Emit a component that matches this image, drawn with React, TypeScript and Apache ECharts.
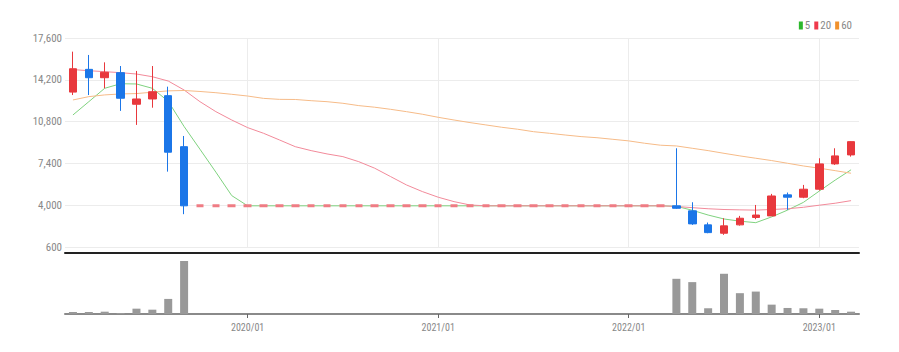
import React, { useEffect, useRef } from 'react';
import * as echarts from 'echarts';

const months = [
  '2019/02','2019/03','2019/04','2019/05','2019/06','2019/07','2019/08','2019/09','2019/10','2019/11','2019/12',
  '2020/01','2020/02','2020/03','2020/04','2020/05','2020/06','2020/07','2020/08','2020/09','2020/10','2020/11','2020/12',
  '2021/01','2021/02','2021/03','2021/04','2021/05','2021/06','2021/07','2021/08','2021/09','2021/10','2021/11','2021/12',
  '2022/01','2022/02','2022/03','2022/04','2022/05','2022/06','2022/07','2022/08','2022/09','2022/10','2022/11','2022/12',
  '2023/01','2023/02','2023/03'
];

const openPrices = [
  13200, 15050, 14370, 14780, 12210, 12640, 12910, 8760,
  3950, 3950, 3950, 3950, 3950, 3950, 3950, 3950, 3950, 3950,
  3950, 3950, 3950, 3950, 3950, 3950, 3950, 3950, 3950, 3950,
  3950, 3950, 3950, 3950, 3950, 3950, 3950, 3950, 3950, 3950,
  3950, 3540, 2400, 1720, 2400, 3000, 3130, 4840, 4650, 5300, 7360, 8090
];
const closePrices = [
  15100, 14370, 14810, 12700, 12640, 13230, 8310, 3950,
  3950, 3950, 3950, 3950, 3950, 3950, 3950, 3950, 3950, 3950,
  3950, 3950, 3950, 3950, 3950, 3950, 3950, 3950, 3950, 3950,
  3950, 3950, 3950, 3950, 3950, 3950, 3950, 3950, 3950, 3950,
  3750, 2480, 1770, 2320, 2940, 3200, 4750, 4650, 5300, 7360, 8010, 9170
];
const lowPrices = [
  12960, 12960, 13510, 11670, 10530, 11930, 6730, 3270,
  3950, 3950, 3950, 3950, 3950, 3950, 3950, 3950, 3950, 3950,
  3950, 3950, 3950, 3950, 3950, 3950, 3950, 3950, 3950, 3950,
  3950, 3950, 3950, 3950, 3950, 3950, 3950, 3950, 3950, 3950,
  3700, 2400, 1720, 1590, 2340, 2860, 3130, 3620, 4570, 5190, 7280, 7950
];
const highPrices = [
  16490, 16220, 15620, 15320, 14920, 15320, 13640, 9630,
  3950, 3950, 3950, 3950, 3950, 3950, 3950, 3950, 3950, 3950,
  3950, 3950, 3950, 3950, 3950, 3950, 3950, 3950, 3950, 3950,
  3950, 3950, 3950, 3950, 3950, 3950, 3950, 3950, 3950, 3950,
  8630, 4240, 2590, 2940, 3130, 4020, 4920, 5030, 5650, 7820, 8630, 9200
];
const volumes = [
  200, 200, 230, 100, 530, 430, 1500, 5270,
  0, 0, 0, 0, 0, 0, 0, 0, 0, 0,
  0, 0, 0, 0, 0, 0, 0, 0, 0, 0,
  0, 0, 0, 0, 0, 0, 0, 0, 0, 0,
  3500, 3170, 570, 4000, 2070, 2230, 930, 600, 570, 530, 400, 230
];
const ma5 = [
  11340, 12420, 13510, 13880, 13860, 13510, 12450, 10400, 8550, 6690, 4780,
  3950, 3950, 3950, 3950, 3950, 3950, 3950, 3950, 3950, 3950,
  3950, 3950, 3950, 3950, 3950, 3950, 3950, 3950, 3950, 3950,
  3950, 3950, 3950, 3950, 3950, 3950, 3950,
  3910, 3590, 3200, 2880, 2700, 2580, 3050, 3600, 4230, 5150, 6040, 6880
];
const ma20 = [
  15030, 14940, 14860, 14780, 14670, 14450, 14100, 13370, 12420, 11610,
  10930, 10310, 9850, 9310, 8760, 8440, 8170, 7950, 7540, 7010,
  6330, 5650, 5110, 4650, 4290, 4020,
  3950, 3950, 3950, 3950, 3950, 3950, 3950, 3950, 3950, 3950, 3950, 3950,
  3900, 3800, 3710, 3650, 3620, 3600, 3650, 3710, 3830, 4000, 4160, 4370
];
const ma60 = [
  12560, 12830, 12970, 13050, 13080, 13190, 13300, 13330, 13250, 13150,
  13020, 12880, 12690, 12610, 12600, 12500, 12420, 12290, 12100, 11970,
  11800, 11610, 11400, 11150, 10930, 10720, 10530, 10340, 10180, 9980,
  9850, 9710, 9580, 9490, 9360, 9230, 9040, 8880, 8820, 8630,
  8440, 8220, 8010, 7820, 7630, 7410, 7190, 7010, 6810, 6600
];
const yTicks = { min: 600, max: 17600, interval: 3400 };
const yearMarks = ['2020/01', '2021/01', '2022/01', '2023/01'];
const legendNames = ['5', '20', '60'];

const FONT = "'Liberation Sans Narrow', 'Roboto Condensed', 'DejaVu Sans Condensed', 'Liberation Sans', sans-serif";
const UP = '#e8383d';
const DOWN = '#1b76e8';

export default function App() {
  const ref = useRef<HTMLDivElement>(null);
  useEffect(() => {
    if (!ref.current) return;
    const chart = echarts.init(ref.current, undefined, { renderer: 'svg' });
    const candleData = months.map((m, i) => {
      const flat = openPrices[i] === closePrices[i] && lowPrices[i] === highPrices[i] && openPrices[i] === lowPrices[i];
      const value = [openPrices[i], closePrices[i], lowPrices[i], highPrices[i]];
      if (flat) {
        return { value, itemStyle: { borderWidth: 3, borderColor: '#ef7c84', color: '#ef7c84' } };
      }
      return { value };
    });
    const isJan = (idx: number, val: string) => /\/01$/.test(months[idx] ?? val);
    const option: any = {
      animation: false,
      textStyle: { fontFamily: FONT },
      legend: {
        data: [
          { name: legendNames[0], itemStyle: { color: '#2cb82c' } },
          { name: legendNames[1], itemStyle: { color: '#ef3a4c' } },
          { name: legendNames[2], itemStyle: { color: '#f0922e' } },
        ],
        right: 42,
        top: 15,
        icon: 'rect',
        itemWidth: 4,
        itemHeight: 8,
        itemGap: 4,
        textStyle: { fontSize: 11, color: '#888', fontFamily: FONT, padding: [0, 0, 0, -3] },
      },
      grid: [
        { left: 65, right: 40, top: 38, height: 209 },
        { left: 65, right: 40, top: 261, height: 53 },
      ],
      xAxis: [
        {
          type: 'category',
          data: months,
          gridIndex: 0,
          boundaryGap: true,
          offset: 6,
          axisLine: { lineStyle: { color: '#222', width: 2 } },
          axisTick: { show: false },
          axisLabel: { show: false },
          splitLine: { show: false },
        },
        {
          type: 'category',
          data: months,
          gridIndex: 1,
          boundaryGap: true,
          axisLine: { lineStyle: { color: '#8a8a8a', width: 2 } },
          axisTick: { show: true, alignWithLabel: true, interval: isJan, length: 4, lineStyle: { color: '#666' } },
          axisLabel: { interval: isJan, color: '#888', fontSize: 10, margin: 8, fontFamily: FONT },
          splitLine: { show: false },
        },
      ],
      yAxis: [
        {
          type: 'value',
          gridIndex: 0,
          min: yTicks.min,
          max: yTicks.max,
          interval: yTicks.interval,
          axisLine: { show: false },
          axisTick: { show: false },
          axisLabel: {
            color: '#888',
            fontSize: 11,
            margin: 3,
            fontFamily: FONT,
            formatter: (v: number) => v.toLocaleString('en-US'),
          },
          splitLine: { lineStyle: { color: '#ececec', width: 1 } },
        },
        {
          type: 'value',
          gridIndex: 1,
          min: 0,
          max: 'dataMax',
          show: false,
          splitLine: { show: false },
        },
      ],
      series: [
        {
          name: '5',
          type: 'line',
          data: ma5,
          xAxisIndex: 0,
          yAxisIndex: 0,
          showSymbol: false,
          itemStyle: { color: '#2cb82c' },
          lineStyle: { color: '#7fd27f', width: 1 },
          z: 2,
        },
        {
          name: '20',
          type: 'line',
          data: ma20,
          xAxisIndex: 0,
          yAxisIndex: 0,
          showSymbol: false,
          itemStyle: { color: '#ef3a4c' },
          lineStyle: { color: '#f28a9a', width: 1 },
          z: 2,
        },
        {
          name: '60',
          type: 'line',
          data: ma60,
          xAxisIndex: 0,
          yAxisIndex: 0,
          showSymbol: false,
          itemStyle: { color: '#f0922e' },
          lineStyle: { color: '#f6bb88', width: 1 },
          z: 2,
        },
        {
          name: 'price',
          type: 'candlestick',
          data: candleData,
          xAxisIndex: 0,
          yAxisIndex: 0,
          barWidth: 8,
          itemStyle: { color: UP, color0: DOWN, borderColor: UP, borderColor0: DOWN, borderWidth: 1 },
          z: 3,
          markLine: {
            silent: true,
            symbol: 'none',
            label: { show: false },
            lineStyle: { color: '#ececec', width: 1, type: 'solid' },
            data: yearMarks.map((m) => ({ xAxis: m })),
            z: 1,
          },
        },
        {
          name: 'volume',
          type: 'bar',
          data: volumes,
          xAxisIndex: 1,
          yAxisIndex: 1,
          barWidth: 8,
          itemStyle: { color: '#999999' },
        },
      ],
    };
    chart.setOption(option);
    return () => chart.dispose();
  }, []);
  return <div ref={ref} style={{ position: 'fixed', left: 0, top: 0, width: 899, height: 352, background: '#fff' }} />;
}
